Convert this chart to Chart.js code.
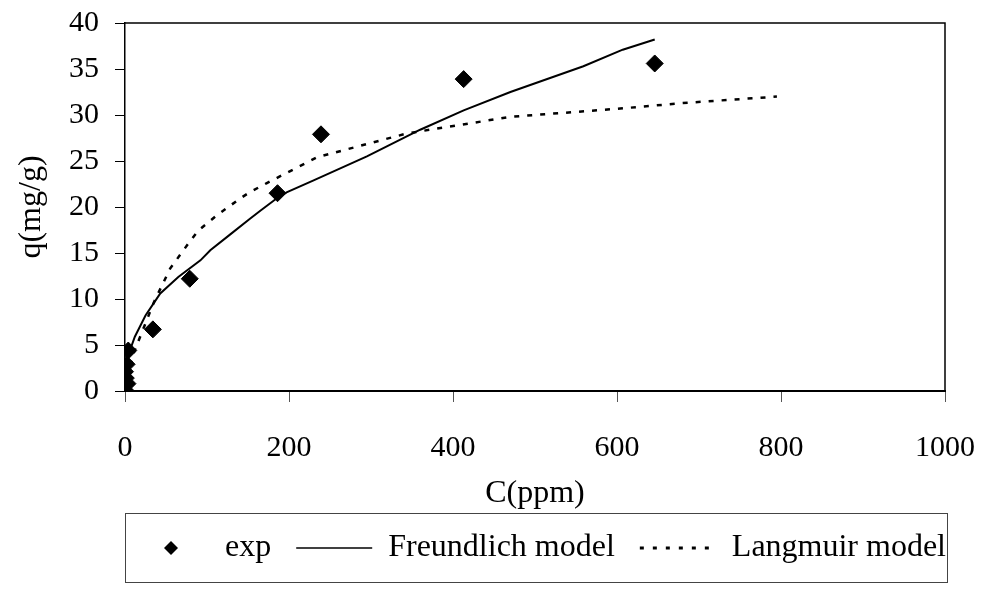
<!DOCTYPE html>
<html>
<head>
<meta charset="utf-8">
<script src="https://cdn.jsdelivr.net/npm/chart.js@4"></script>
<style>
  html, body { margin: 0; padding: 0; background: #fff; }
  #wrap { width: 987px; height: 608px; }
</style>
</head>
<body>
<div id="wrap"><canvas id="isotherm"></canvas></div>
<script>
// experimental points
const expC = [0, 1, 3, 0, 2, 4, 34, 79, 186, 239, 413, 646];
const expQ = [0.1, 1.4, 0.8, 2.1, 2.9, 4.4, 6.7, 12.2, 21.5, 27.9, 33.9, 35.6];

// Freundlich fit
const freC = [0, 1, 3, 6, 12, 25, 43, 65, 92, 104, 128, 152, 165, 186, 197, 230, 295, 360, 413, 470, 559, 607, 646];
const freQ = [0, 2.0, 3.2, 4.4, 5.9, 8.2, 10.6, 12.4, 14.2, 15.3, 17.0, 18.7, 19.6, 21.0, 21.6, 22.9, 25.5, 28.4, 30.5, 32.5, 35.3, 37.1, 38.2];

// Langmuir fit
const langC = [0, 10, 35, 55, 77, 89, 112, 140, 152, 173, 234, 344, 470, 604, 680, 795];
const langQ = [0, 4.0, 9.6, 13.3, 16.0, 17.4, 19.1, 20.9, 21.6, 22.6, 25.4, 28.0, 29.8, 30.7, 31.3, 32.0];

const xTicks = [0, 200, 400, 600, 800, 1000];
const yTicks = [0, 5, 10, 15, 20, 25, 30, 35, 40];

const toPoints = (xs, ys) => xs.map((x, i) => ({ x: x, y: ys[i] }));

Chart.defaults.font.family = "'Liberation Serif', 'Times New Roman', serif";
Chart.defaults.font.size = 30;
Chart.defaults.color = '#000';

// small diamond used as the legend key of the markers
const legendDiamond = document.createElement('canvas');
legendDiamond.width = 14;
legendDiamond.height = 14;
(function () {
    const c = legendDiamond.getContext('2d');
    c.fillStyle = '#000';
    c.beginPath();
    c.moveTo(7, 0);
    c.lineTo(14, 7);
    c.lineTo(7, 14);
    c.lineTo(0, 7);
    c.closePath();
    c.fill();
})();

// frame around the plot area and the legend
const frames = {
    id: 'frames',
    afterLayout(chart) {
        // legend row is centred under the plot, not under the whole canvas
        const lg = chart.legend;
        lg.left = 94;
        lg.right = 985;
        lg.width = lg.right - lg.left;
    },
    afterDraw(chart) {
        const { ctx, chartArea: a } = chart;
        const lg = chart.legend;
        ctx.save();
        ctx.strokeStyle = '#000';
        ctx.lineWidth = 1.5;
        ctx.beginPath();
        ctx.moveTo(a.left, a.top);
        ctx.lineTo(a.right, a.top);
        ctx.lineTo(a.right, a.bottom);
        ctx.stroke();
        const labels = lg.options.labels;
        const mid = lg.top + labels.padding + labels.font.size / 2;
        ctx.strokeStyle = '#444';
        ctx.lineWidth = 1;
        ctx.strokeRect(a.left + 0.5, Math.round(mid - 35) + 0.5, a.right - a.left + 2, 69);
        ctx.restore();
    }
};

new Chart(document.getElementById('isotherm'), {
    type: 'scatter',
    data: {
        datasets: [{
            label: 'exp',
            data: toPoints(expC, expQ),
            pointStyle: 'rectRot',
            pointRadius: 8.5,
            pointHoverRadius: 8.5,
            backgroundColor: '#000',
            borderColor: '#000',
            borderWidth: 1,
            showLine: false
        },
        {
            label: 'Freundlich model',
            data: toPoints(freC, freQ),
            showLine: true,
            pointRadius: 0,
            pointStyle: 'line',
            borderColor: '#000',
            backgroundColor: '#000',
            borderWidth: 2,
            tension: 0
        },
        {
            label: 'Langmuir model',
            data: toPoints(langC, langQ),
            showLine: true,
            pointRadius: 0,
            pointStyle: 'line',
            borderColor: '#000',
            backgroundColor: '#000',
            borderWidth: 2.5,
            borderDash: [5, 8],
            tension: 0
        }]
    },
    options: {
        responsive: true,
        maintainAspectRatio: false,
        animation: false,
        layout: {
            padding: { left: 0, right: 42, top: 23, bottom: 34 }
        },
        plugins: {
            legend: {
                position: 'bottom',
                labels: {
                    usePointStyle: true,
                    pointStyleWidth: 76,
                    boxHeight: 9,
                    padding: 25,
                    color: '#000',
                    font: { size: 32 },
                    generateLabels(chart) {
                        const items = Chart.defaults.plugins.legend.labels.generateLabels(chart);
                        items[0].pointStyle = legendDiamond;
                        items[1].lineWidth = 1.5;
                        items[2].lineDash = [4, 9];
                        items[2].lineWidth = 3;
                        return items;
                    }
                }
            },
            tooltip: { enabled: false }
        },
        scales: {
            x: {
                type: 'linear',
                min: 0,
                max: 1000,
                afterBuildTicks: axis => { axis.ticks = xTicks.map(v => ({ value: v })); },
                border: { display: true, color: '#000', width: 2 },
                grid: { drawOnChartArea: false, drawTicks: true, tickLength: 11, color: '#555' },
                ticks: {
                    padding: 12,
                    font: { size: 30, lineHeight: 68 / 30 },
                    callback: v => String(v)
                },
                title: {
                    display: true,
                    text: 'C(ppm)',
                    font: { size: 32, lineHeight: 36 / 32 },
                    padding: { top: -18, bottom: -5 }
                }
            },
            y: {
                type: 'linear',
                min: 0,
                max: 40,
                afterBuildTicks: axis => { axis.ticks = yTicks.map(v => ({ value: v })); },
                border: { display: true, color: '#000', width: 1.5 },
                grid: { drawOnChartArea: false, drawTicks: true, tickLength: 10, color: '#000' },
                ticks: {
                    padding: 16,
                    font: { size: 30, lineHeight: 0.4 },
                    callback: v => String(v)
                },
                title: {
                    display: true,
                    text: 'q(mg/g)',
                    font: { size: 32, lineHeight: 36 / 32 },
                    padding: { top: 14, bottom: 3 }
                }
            }
        }
    },
    plugins: [frames]
});
</script>
</body>
</html>
